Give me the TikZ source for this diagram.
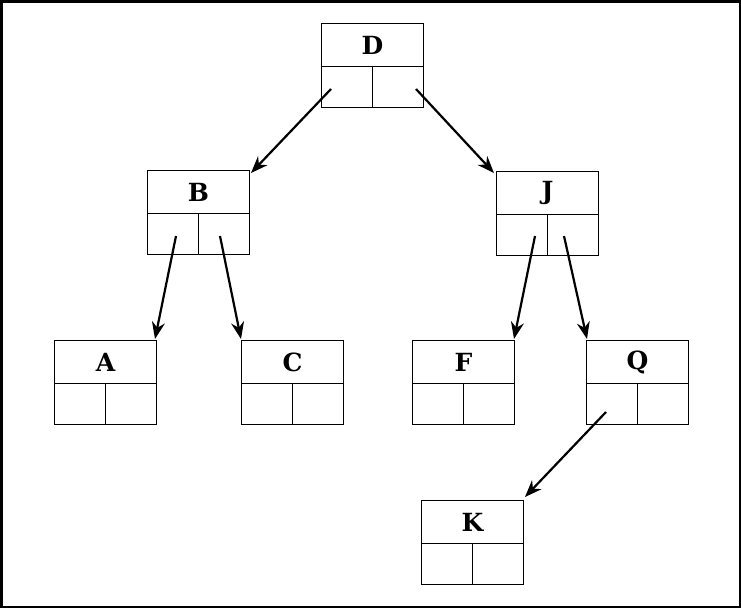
\documentclass[tikz,border=0pt]{standalone}
\usepackage{fontspec}
\newfontfamily\slab{DejaVu Serif}
\usetikzlibrary{arrows.meta}
\begin{document}
\begin{tikzpicture}[x=1pt,y=-1pt,
  box/.style={draw,line width=0.9pt,minimum width=102pt,minimum height=84pt,inner sep=0pt,anchor=north west},
  lbl/.style={font=\slab\bfseries\fontsize{25}{25}\selectfont},
  arr/.style={line width=2.2pt,-{Stealth[length=17pt,width=13pt]}}]
\useasboundingbox (0,0) rectangle (741,608);
\draw[line width=2.5pt] (1.25,1.25) rectangle (739.75,606.75);
\newcommand\tnode[4]{%
  \node[box] (#1) at (#2,#3) {};
  \draw[line width=0.9pt] ([yshift=-43pt]#1.north west) -- ([yshift=-43pt]#1.north east);
  \draw[line width=0.9pt] ([yshift=-43pt]#1.north) -- (#1.south);
  \node[lbl] (#1l) at ([yshift=-22pt]#1.north) {#4};}
\tnode{D}{321}{23}{D}
\tnode{B}{147}{170}{B}
\tnode{J}{496}{171}{J}
\tnode{A}{54}{340}{A}
\tnode{C}{241}{340}{C}
\tnode{F}{412}{340}{F}
\tnode{Q}{586}{340}{Q}
\tnode{K}{421}{500}{K}
\coordinate (d1) at (331,89); \coordinate (d2) at (416,89);
\coordinate (b1) at (176,236); \coordinate (b2) at (220,236);
\coordinate (j1) at (535,236); \coordinate (j2) at (564,236);
\coordinate (q1) at (606,412);
\coordinate (tB) at (251,173); \coordinate (tJ) at (494,173);
\coordinate (tA) at (155,339); \coordinate (tC) at (241,339);
\coordinate (tF) at (514,339); \coordinate (tQ) at (587,339);
\coordinate (tK) at (525,497);
\draw[arr] (d1) -- (tB);
\draw[arr] (d2) -- (tJ);
\draw[arr] (b1) -- (tA);
\draw[arr] (b2) -- (tC);
\draw[arr] (j1) -- (tF);
\draw[arr] (j2) -- (tQ);
\draw[arr] (q1) -- (tK);
\end{tikzpicture}
\end{document}
